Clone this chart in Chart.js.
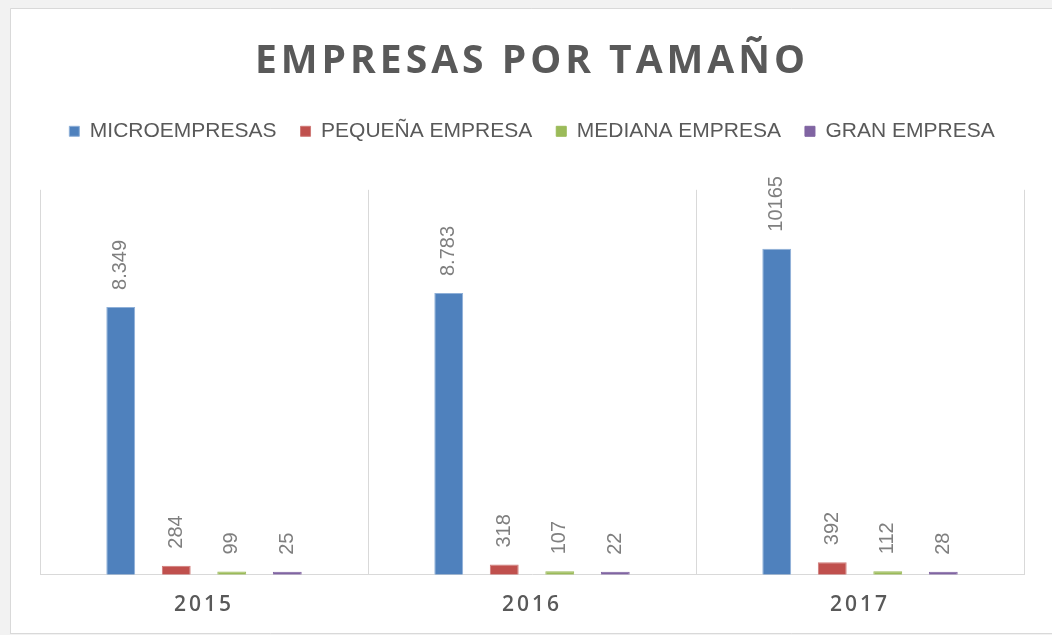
<!DOCTYPE html>
<html>
<head>
<meta charset="utf-8">
<script src="https://cdn.jsdelivr.net/npm/chart.js@4/dist/chart.umd.min.js"></script>
<style>
  html, body { margin: 0; padding: 0; background: #f2f2f2; }
  #wrap { position: absolute; left: 0; top: 0; width: 1052px; height: 635px; }
</style>
</head>
<body>
<div id="wrap"><canvas id="c" width="1052" height="635"></canvas></div>
<script>
const titleText = 'EMPRESAS POR TAMAÑO';
const categories = ['2015', '2016', '2017'];
const seriesNames = ['MICROEMPRESAS', 'PEQUEÑA EMPRESA', 'MEDIANA EMPRESA', 'GRAN EMPRESA'];
const microValues = [8349, 8783, 10165];
const pequenaValues = [284, 318, 392];
const medianaValues = [99, 107, 112];
const granValues = [25, 22, 28];
const microLabels = ['8.349', '8.783', '10165'];
const pequenaLabels = ['284', '318', '392'];
const medianaLabels = ['99', '107', '112'];
const granLabels = ['25', '22', '28'];
const yMax = 12000;

const fills = ['#4f81bd', '#c0504d', '#9bbb59', '#8064a2'];
const edges = ['#8fb0d8', '#cf7a77', '#9bbb59', '#8064a2'];
const seriesValues = [microValues, pequenaValues, medianaValues, granValues];
const seriesLabels = [microLabels, pequenaLabels, medianaLabels, granLabels];

const frame = {
  id: 'frame',
  beforeDraw(chart) {
    const ctx = chart.ctx;
    ctx.save();
    ctx.fillStyle = '#f2f2f2';
    ctx.fillRect(0, 0, chart.width, chart.height);
    ctx.fillStyle = '#ffffff';
    ctx.fillRect(10, 9, chart.width - 10, chart.height - 11);
    ctx.strokeStyle = '#d9d9d9';
    ctx.lineWidth = 1;
    ctx.beginPath();
    ctx.moveTo(10.5, chart.height - 2);
    ctx.lineTo(10.5, 8.5);
    ctx.lineTo(chart.width, 8.5);
    ctx.moveTo(10, chart.height - 1.5);
    ctx.lineTo(chart.width, chart.height - 1.5);
    ctx.stroke();
    ctx.restore();
    // letter spacing for title and category labels
    const wrap = (obj, name, sp) => {
      if (!obj || obj['_sp_' + name]) return;
      const orig = obj[name].bind(obj);
      obj[name] = function (a) {
        const c = chart.ctx; c.save(); c.letterSpacing = sp; orig(a); c.restore();
      };
      obj['_sp_' + name] = true;
    };
    wrap(chart.titleBlock, 'draw', '4px');
    wrap(chart.scales.x, 'drawLabels', '3px');
  }
};

const valueLabels = {
  id: 'valueLabels',
  afterDatasetsDraw(chart) {
    const ctx = chart.ctx;
    ctx.save();
    ctx.font = '20px "Liberation Sans", Arial, sans-serif';
    ctx.fillStyle = '#7f7f7f';
    ctx.textAlign = 'left';
    ctx.textBaseline = 'middle';
    chart.data.datasets.forEach((ds, di) => {
      const meta = chart.getDatasetMeta(di);
      meta.data.forEach((bar, i) => {
        ctx.save();
        ctx.translate(bar.x, bar.y - 17);
        ctx.rotate(-Math.PI / 2);
        ctx.fillText(ds.valueLabels[i], 0, 0);
        ctx.restore();
      });
    });
    ctx.restore();
  }
};

new Chart(document.getElementById('c'), {
  type: 'bar',
  data: {
    labels: categories,
    datasets: seriesNames.map((name, k) => ({
      label: name,
      data: seriesValues[k],
      valueLabels: seriesLabels[k],
      backgroundColor: fills[k],
      borderColor: edges[k],
      borderWidth: 1,
      borderSkipped: 'bottom',
      minBarLength: 3,
      categoryPercentage: 0.677,
      barPercentage: 0.52
    }))
  },
  options: {
    responsive: false,
    animation: false,
    devicePixelRatio: 1,
    layout: { padding: { left: 40, right: 28, top: 0, bottom: -1 } },
    plugins: {
      tooltip: { enabled: false },
      title: {
        display: true,
        text: titleText,
        color: '#595959',
        font: { family: '"Open Sans", sans-serif', size: 39, weight: 'bold', lineHeight: 1.2 },
        padding: { top: 38, bottom: 12 }
      },
      legend: {
        display: true,
        position: 'top',
        labels: {
          boxWidth: 10,
          boxHeight: 10,
          padding: 24,
          color: '#595959',
          font: { family: '"Liberation Sans", Arial, sans-serif', size: 21 }
        }
      }
    },
    scales: {
      x: {
        grid: { display: true, color: '#d9d9d9', lineWidth: 1, drawTicks: false, offset: true },
        border: { display: true, color: '#d9d9d9', width: 1 },
        ticks: {
          color: '#595959',
          padding: 18,
          font: { family: '"Open Sans", sans-serif', size: 21, weight: '600', lineHeight: 1.2 }
        }
      },
      xTop: {
        type: 'category',
        position: 'top',
        display: true,
        grid: { display: false, drawTicks: false },
        border: { display: false },
        ticks: { display: false },
        afterFit(scale) { scale.height = 38; }
      },
      y: {
        display: false,
        min: 0,
        max: yMax
      }
    }
  },
  plugins: [frame, valueLabels]
});
</script>
</body>
</html>
